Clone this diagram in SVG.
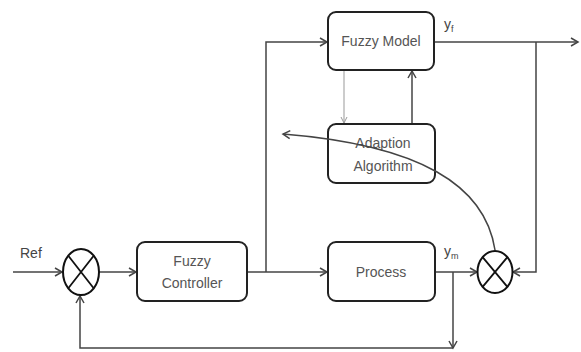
<svg xmlns="http://www.w3.org/2000/svg" width="581" height="352" viewBox="0 0 581 352">
<style>
.box{fill:#fff;stroke:#222;stroke-width:2}
.ln{fill:none;stroke:#444;stroke-width:1.5}
.thin{fill:none;stroke:#999;stroke-width:1}
.sum{fill:#fff;stroke:#111;stroke-width:2}
.t{font-family:"Liberation Sans",Arial,sans-serif;font-size:14px;fill:#555;text-anchor:middle}
.l{font-family:"Liberation Sans",Arial,sans-serif;font-size:14px;fill:#444}
</style>
<defs>
<marker id="a" markerWidth="10" markerHeight="10" refX="8" refY="5" orient="auto" markerUnits="userSpaceOnUse">
<path d="M1,1 L8,5 L1,9" fill="none" stroke="#444" stroke-width="1.5"/>
</marker>
<marker id="ag" markerWidth="10" markerHeight="10" refX="8" refY="5" orient="auto" markerUnits="userSpaceOnUse">
<path d="M2,2 L8,5 L2,8" fill="none" stroke="#999" stroke-width="1"/>
</marker>
</defs>
<rect width="581" height="352" fill="#fff"/>
<g id="connectors">
<path class="ln" d="M13,272 H62" marker-end="url(#a)"/>
<path class="ln" d="M99,272 H136" marker-end="url(#a)"/>
<path class="ln" d="M247,272 H327" marker-end="url(#a)"/>
<path class="ln" d="M266,272 V42 H327" marker-end="url(#a)"/>
<path class="ln" d="M434,42 H578" marker-end="url(#a)"/>
<path class="ln" d="M536,42 V272 H513" marker-end="url(#a)"/>
<path class="ln" d="M435,272 H477" marker-end="url(#a)"/>
<path class="ln" d="M453,272 V348" marker-end="url(#a)"/>
<path class="ln" d="M453,348 H80 V296" marker-end="url(#a)"/>
<path class="thin" d="M344,71 V123" marker-end="url(#ag)"/>
<path class="ln" d="M412,124 V71" marker-end="url(#a)"/>
</g>
<g id="fuzzy-model">
<rect class="box" x="328" y="12" width="106" height="58" rx="8"/>
<text class="t" x="381" y="46">Fuzzy Model</text>
</g>
<g id="adaption-algorithm">
<rect class="box" x="328" y="124" width="107" height="59" rx="8"/>
<text class="t" x="383" y="148" font-size="15">Adaption</text>
<text class="t" x="383" y="171" font-size="15">Algorithm</text>
</g>
<g id="fuzzy-controller">
<rect class="box" x="137" y="242" width="110" height="59" rx="8"/>
<text class="t" x="192" y="266">Fuzzy</text>
<text class="t" x="192" y="288">Controller</text>
</g>
<g id="process">
<rect class="box" x="328" y="242" width="107" height="59" rx="8"/>
<text class="t" x="381" y="277">Process</text>
</g>
<g id="sum-left">
<ellipse class="sum" cx="81" cy="272" rx="18" ry="23"/>
<path d="M68.3,255.7 L93.7,288.3 M93.7,255.7 L68.3,288.3" stroke="#111" stroke-width="1.8"/>
</g>
<g id="sum-right">
<ellipse class="sum" cx="495" cy="272" rx="17.5" ry="21"/>
<path d="M482.6,257.2 L507.4,286.8 M507.4,257.2 L482.6,286.8" stroke="#111" stroke-width="1.8"/>
</g>
<g id="adaptation-curve">
<path class="ln" d="M495,250 C485,185 420,145 283,134" marker-end="url(#a)"/>
</g>
<g id="labels">
<text class="l" x="20" y="258">Ref</text>
<text class="l" x="444" y="29">y<tspan font-size="9" dy="3">f</tspan></text>
<text class="l" x="444" y="256">y<tspan font-size="9" dy="3">m</tspan></text>
</g>
</svg>
